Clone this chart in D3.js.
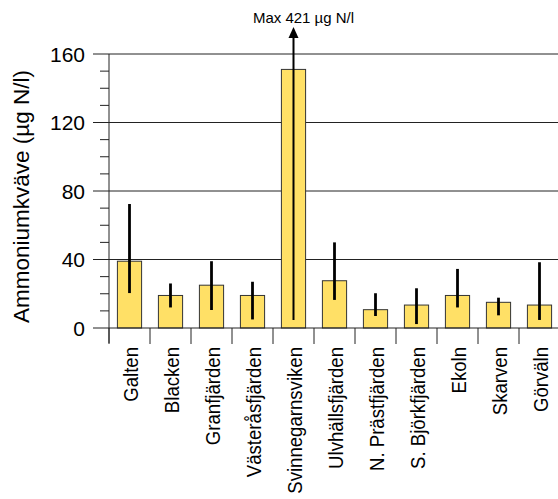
<!DOCTYPE html>
<html>
<head>
<meta charset="utf-8">
<script src="https://cdn.jsdelivr.net/npm/d3@7"></script>
<style>
  html, body { margin: 0; padding: 0; background: #fff; }
  svg { display: block; font-family: "Liberation Sans", Arial, sans-serif; }
</style>
</head>
<body>
<svg id="chart" width="558" height="499"></svg>
<script>
// Ammonium nitrogen per basin: mean with min/max range
const lakes = ["Galten", "Blacken", "Granfjärden", "Västeråsfjärden", "Svinnegarnsviken",
  "Ulvhällsfjärden", "N. Prästfjärden", "S. Björkfjärden", "Ekoln", "Skarven", "Görväln"];
const meanValues = [39, 19, 25, 19, 151, 27.6, 10.7, 13.4, 19, 15, 13.4];
const minValues = [20.4, 12, 10.5, 5, 4.7, 16.4, 7, 2.3, 12, 7.4, 4.7];
const maxValues = [72.4, 26, 39, 27, 421, 50, 20.3, 23.2, 34.5, 17.7, 38.4];
const yTicks = [0, 40, 80, 120, 160];
const yMinorTicks = [10, 20, 30, 50, 60, 70, 90, 100, 110, 130, 140, 150];
const yLabel = "Ammoniumkväve (µg N/l)";
const maxNote = "Max 421 µg N/l";

const svg = d3.select("#chart");
const plotLeft = 109, plotRight = 560, plotTop = 54, plotBottom = 328;

const x = d3.scaleBand().domain(lakes).range([plotLeft, plotRight]).paddingInner(0).paddingOuter(0);
const y = d3.scaleLinear().domain([0, 160]).range([plotBottom, plotTop]);

// Horizontal gridlines
svg.append("g").selectAll("line").data(yTicks.filter(d => d > 0)).join("line")
  .attr("x1", plotLeft).attr("x2", 558)
  .attr("y1", d => y(d)).attr("y2", d => y(d))
  .attr("stroke", "#222").attr("stroke-width", 1);

// Bars
const barW = x.bandwidth() * 0.59;
svg.append("g").selectAll("rect").data(lakes).join("rect")
  .attr("x", d => x(d) + x.bandwidth() / 2 - barW / 2)
  .attr("width", barW)
  .attr("y", (d, i) => y(meanValues[i]))
  .attr("height", (d, i) => y(0) - y(meanValues[i]))
  .attr("fill", "#ffe066")
  .attr("stroke", "#333")
  .attr("stroke-width", 1);

// Range bars (the Svinnegarnsviken maximum is off-scale and drawn as an arrow)
const arrowTip = 29;
svg.append("g").selectAll("line").data(lakes).join("line")
  .attr("x1", d => x(d) + x.bandwidth() / 2)
  .attr("x2", d => x(d) + x.bandwidth() / 2)
  .attr("y1", (d, i) => y(minValues[i]))
  .attr("y2", (d, i) => maxValues[i] > 160 ? arrowTip + 6 : y(maxValues[i]))
  .attr("stroke", "#000")
  .attr("stroke-width", (d, i) => maxValues[i] > 160 ? 2 : 2.8);

lakes.forEach((d, i) => {
  if (maxValues[i] > 160) {
    const cx = x(d) + x.bandwidth() / 2;
    svg.append("path")
      .attr("d", `M${cx},${arrowTip - 2} L${cx - 5},${arrowTip + 9} L${cx + 5},${arrowTip + 9} Z`)
      .attr("fill", "#000");
    svg.append("text")
      .attr("x", cx + 10).attr("y", 23)
      .attr("text-anchor", "middle")
      .attr("font-size", 15)
      .attr("fill", "#000")
      .text(maxNote);
  }
});

// Y axis
const yAxis = svg.append("g");
yAxis.append("line")
  .attr("x1", plotLeft).attr("x2", plotLeft).attr("y1", plotTop).attr("y2", plotBottom + 15)
  .attr("stroke", "#222");
yAxis.selectAll("line.major").data(yTicks).join("line").attr("class", "major")
  .attr("x1", plotLeft - 16).attr("x2", plotLeft)
  .attr("y1", d => y(d)).attr("y2", d => y(d))
  .attr("stroke", "#222");
yAxis.selectAll("line.minor").data(yMinorTicks).join("line").attr("class", "minor")
  .attr("x1", plotLeft - 9).attr("x2", plotLeft)
  .attr("y1", d => y(d)).attr("y2", d => y(d))
  .attr("stroke", "#222");
yAxis.selectAll("text").data(yTicks).join("text")
  .attr("x", 85).attr("y", d => y(d))
  .attr("dy", "0.36em")
  .attr("text-anchor", "end")
  .attr("font-size", 21)
  .attr("fill", "#000")
  .text(d => d);

svg.append("text")
  .attr("transform", `translate(28.5,196.5) rotate(-90)`)
  .attr("text-anchor", "middle")
  .attr("font-size", 22.5)
  .attr("fill", "#000")
  .text(yLabel);

// X axis baseline and category separators
svg.append("line")
  .attr("x1", plotLeft).attr("x2", 558).attr("y1", plotBottom).attr("y2", plotBottom)
  .attr("stroke", "#222");
svg.append("g").selectAll("line").data(lakes).join("line")
  .attr("x1", d => x(d)).attr("x2", d => x(d))
  .attr("y1", plotBottom).attr("y2", plotBottom + 16)
  .attr("stroke", "#222");

svg.append("g").selectAll("text").data(lakes).join("text")
  .attr("transform", d => `translate(${x(d) + x.bandwidth() / 2 + 8},${plotBottom + 19}) rotate(-90) scale(1,1.08)`)
  .attr("text-anchor", "end")
  .attr("font-size", 18.6)
  .attr("fill", "#000")
  .text(d => d);
</script>
</body>
</html>
